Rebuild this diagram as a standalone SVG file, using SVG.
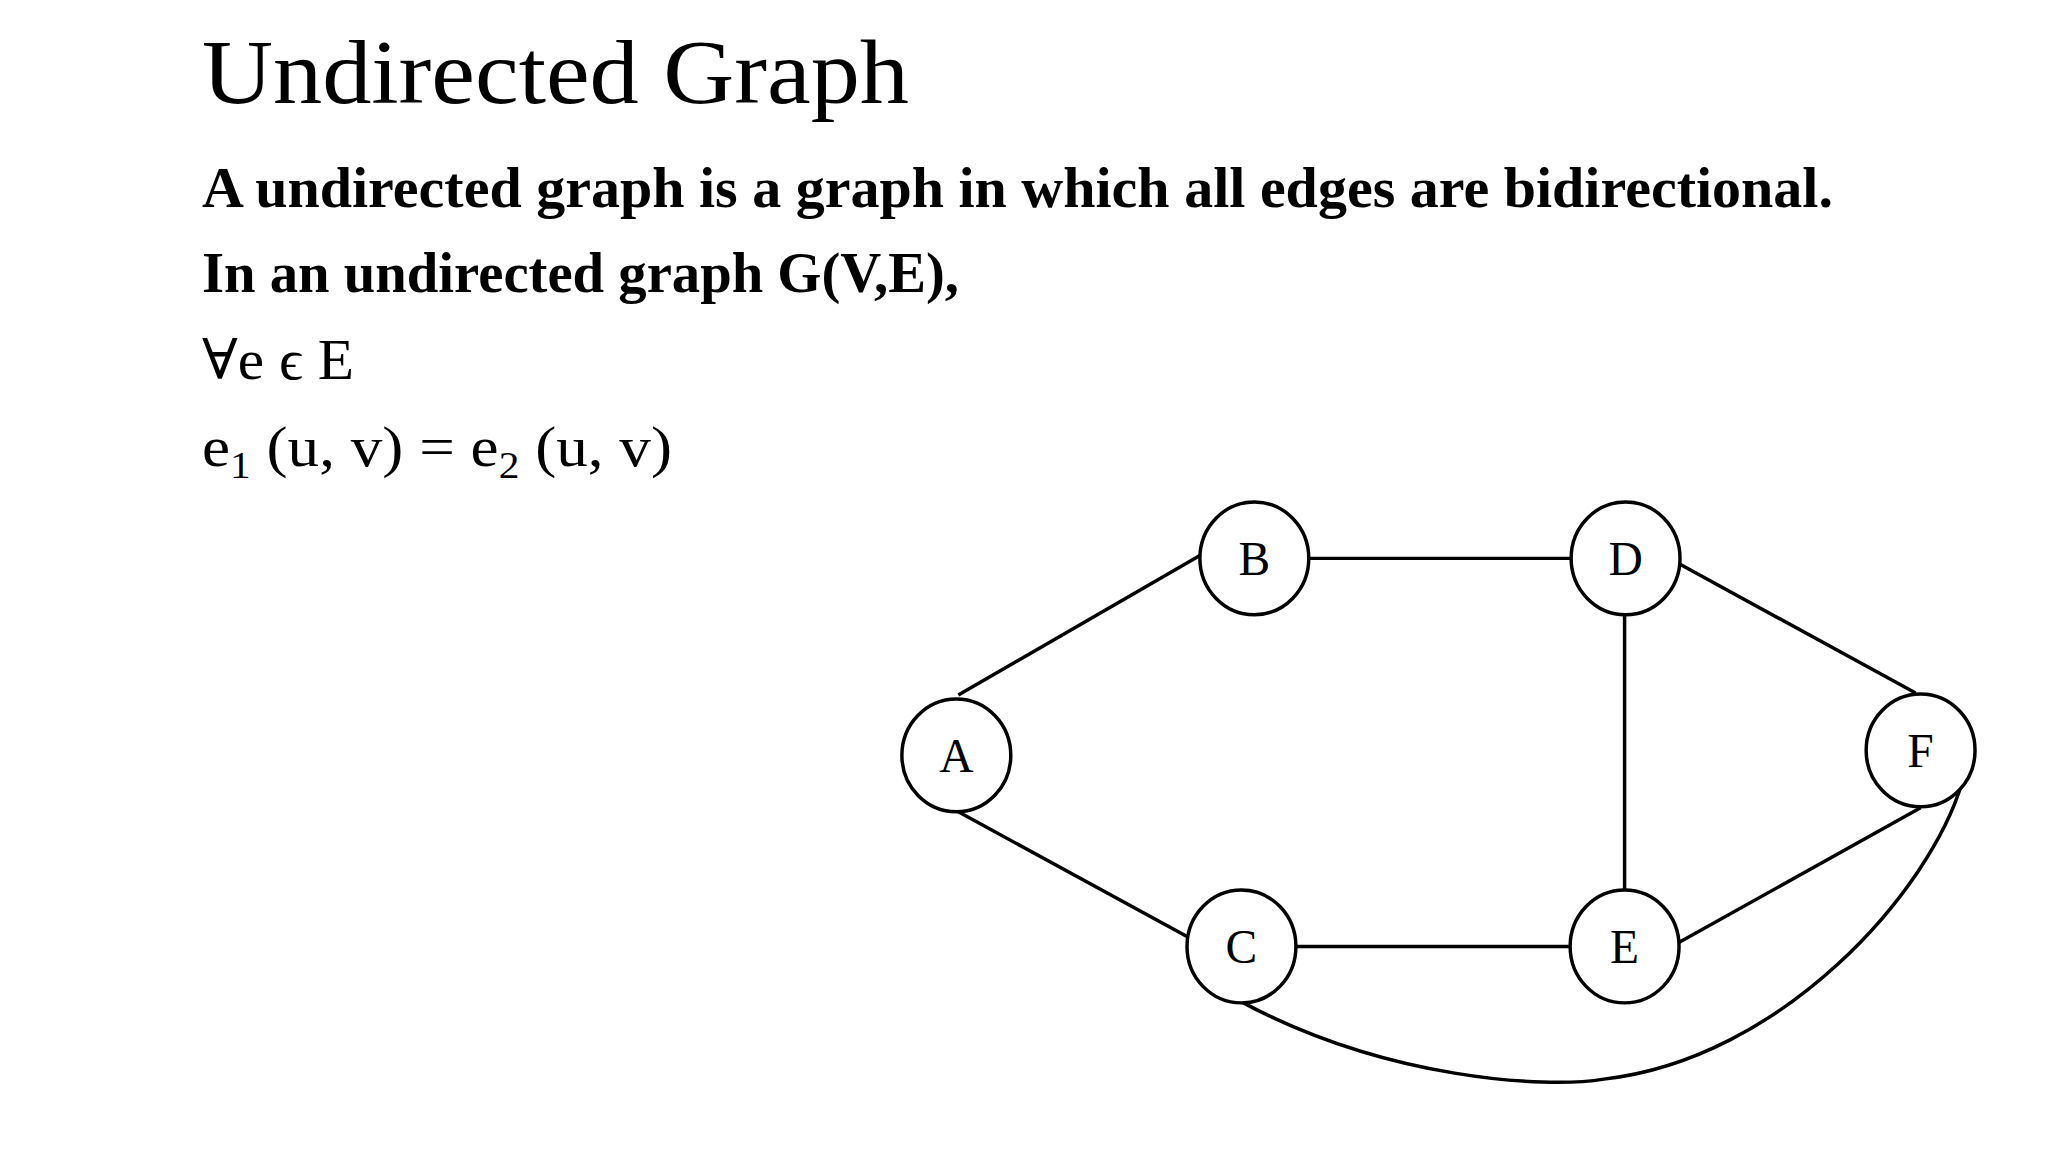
<svg xmlns="http://www.w3.org/2000/svg" width="2048" height="1152" viewBox="0 0 2048 1152">
<style>
.t{font-family:"Liberation Serif","DejaVu Serif",serif;fill:#000}
.n ellipse{fill:#fff;stroke:#000;stroke-width:3.5}
.n text{font-family:"Liberation Serif","DejaVu Serif",serif;font-size:48px;text-anchor:middle;fill:#000}
#edges path,#edges line{stroke:#000;stroke-width:3.5;fill:none}
</style>
<rect width="2048" height="1152" fill="#fff"/>
<text class="t" x="202" y="103" font-size="90" textLength="707" lengthAdjust="spacingAndGlyphs">Undirected Graph</text>
<text class="t" x="202" y="207" font-size="58" font-weight="bold" textLength="1631" lengthAdjust="spacingAndGlyphs">A undirected graph is a graph in which all edges are bidirectional.</text>
<text class="t" x="202" y="292" font-size="58" font-weight="bold" textLength="757" lengthAdjust="spacingAndGlyphs">In an undirected graph G(V,E),</text>
<text class="t" x="202" y="379" font-size="56" textLength="152" lengthAdjust="spacingAndGlyphs">∀e ϵ E</text>
<text class="t" x="202" y="466" font-size="58" textLength="470" lengthAdjust="spacingAndGlyphs">e<tspan font-size="38" dy="12">1</tspan><tspan dy="-12"> (u, v) = e</tspan><tspan font-size="38" dy="12">2</tspan><tspan dy="-12"> (u, v)</tspan></text>
<g transform="scale(0.99)">
<g id="edges">
<line x1="968" y1="702" x2="1212" y2="561"/>
<line x1="1322" y1="564" x2="1588" y2="564"/>
<line x1="1641" y1="620" x2="1641" y2="900"/>
<line x1="1697" y1="570" x2="1935" y2="700"/>
<line x1="1694" y1="953" x2="1940" y2="816"/>
<line x1="968" y1="820" x2="1199" y2="946"/>
<line x1="1308" y1="956" x2="1587" y2="956"/>
<path d="M1254,1012 C1400,1090 1560,1100 1620,1090 C1800,1070 1950,900 1982,790"/>
</g>
<g id="A" class="n"><ellipse cx="966" cy="763" rx="55" ry="57"/><text x="966" y="780">A</text></g>
<g id="B" class="n"><ellipse cx="1267" cy="564" rx="55" ry="57"/><text x="1267" y="581">B</text></g>
<g id="C" class="n"><ellipse cx="1254" cy="956" rx="55" ry="57"/><text x="1254" y="973">C</text></g>
<g id="D" class="n"><ellipse cx="1642" cy="564" rx="55" ry="57"/><text x="1642" y="581">D</text></g>
<g id="E" class="n"><ellipse cx="1641" cy="956" rx="55" ry="57"/><text x="1641" y="973">E</text></g>
<g id="F" class="n"><ellipse cx="1940" cy="758" rx="55" ry="57"/><text x="1940" y="775">F</text></g>
</g>
</svg>
